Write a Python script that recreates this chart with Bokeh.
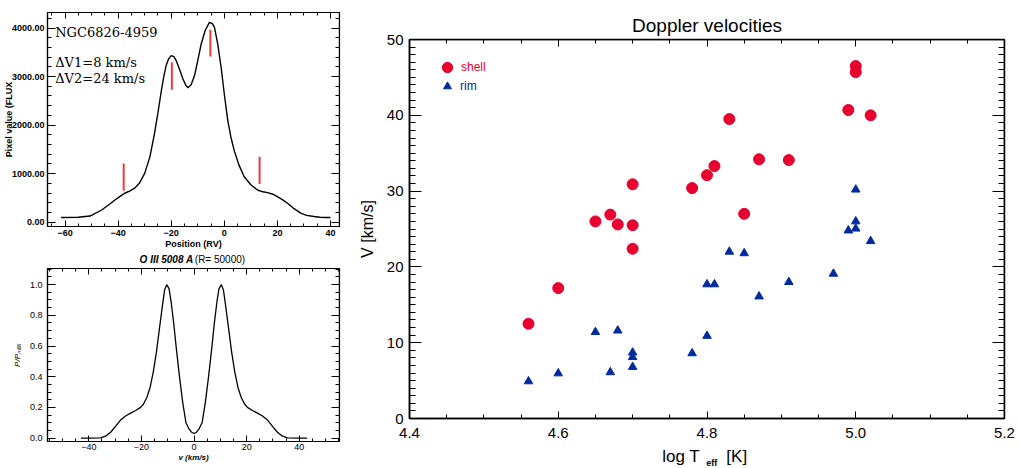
from bokeh.plotting import figure
from bokeh.models import (LinearAxis, Range1d, Label, Legend, LegendItem,
                          SingleIntervalTicker, NumeralTickFormatter,
                          CustomJSTickFormatter)
from bokeh.core.properties import value
from bokeh.layouts import row, column
from bokeh.embed import file_html
from bokeh.resources import INLINE

# ---------------- data ----------------
# top-left: observed line profile NGC6826-4959
spec_x = [-61.5, -55, -50.6, -46.2, -43, -41.2, -39, -37.5, -35.5, -33.8, -32, -30, -28,
          -26.3, -25, -23.7, -22.8, -21.9, -21, -20, -19, -18.1, -16.8, -15.6, -14.5,
          -13.7, -12.5, -11.2, -10, -8.7, -7.2, -5.6, -4.5, -3.7, -2.5, -1.2, 0, 1.3,
          2.5, 3.7, 5.5, 7.5, 10, 12.5, 14.5, 16.3, 18.3, 20, 22, 23.8, 26, 28.8, 31,
          33.8, 36, 38.1, 40]
spec_y = [95, 100, 125, 250, 380, 457, 540, 595, 645, 700, 800, 1005, 1350,
          1825, 2250, 2713, 3000, 3226, 3360, 3431, 3410, 3328, 3140, 2954, 2820,
          2769, 2830, 3021, 3330, 3672, 3950, 4115, 4090, 4012, 3680, 3192, 2640, 2098,
          1750, 1483, 1180, 935, 770, 662, 625, 607, 575, 525, 460, 390, 290, 185, 140,
          115, 102, 95, 95]
# red component markers
comp_x = [-37.9, -19.75, -5.25, 13.3]
comp_y0 = [648, 2728, 3411, 786]
comp_y1 = [1210, 3294, 3965, 1346]

# bottom-left: model profile O III 5008
prof_x = [-43, -40, -35.5, -33.4, -31.6, -29.7, -27.8, -25.9, -24.1, -22.2, -20.3, -19.2,
          -17.9, -16.7, -15.5, -14.3, -13.1, -12.0, -11.2, -10.4, -9.5, -8.7, -7.7, -6.7,
          -5.6, -4.3, -3.1, -1.9, -0.9, 0,
          0.9, 1.9, 3.1, 4.3, 5.6, 6.7, 7.7, 8.7, 9.5, 10.4, 11.2, 12.0, 13.1, 14.3,
          15.5, 16.7, 17.9, 19.2, 20.3, 22.2, 24.1, 25.9, 27.8, 29.7, 31.6, 33.4, 35.5,
          40, 43]
prof_y = [0, 0, 0.002, 0.015, 0.04, 0.08, 0.12, 0.146, 0.163, 0.18, 0.2, 0.222,
          0.266, 0.33, 0.43, 0.56, 0.72, 0.865, 0.963, 1.0, 0.974, 0.887, 0.745, 0.58,
          0.41, 0.233, 0.102, 0.06, 0.038, 0.03,
          0.038, 0.06, 0.102, 0.233, 0.41, 0.58, 0.745, 0.887, 0.974, 1.0, 0.963, 0.865,
          0.72, 0.56, 0.43, 0.33, 0.266, 0.222, 0.2, 0.18, 0.163, 0.146, 0.12, 0.08,
          0.04, 0.015, 0.002, 0, 0]

# right: Doppler velocities
shell_logT = [4.56, 4.60, 4.65, 4.67, 4.68, 4.70, 4.70, 4.70, 4.78, 4.80, 4.81, 4.83,
              4.85, 4.87, 4.91, 4.99, 5.00, 5.00, 5.02]
shell_v = [12.5, 17.2, 26.0, 26.9, 25.6, 25.5, 30.9, 22.4, 30.4, 32.1, 33.3, 39.5,
           27.0, 34.2, 34.1, 40.7, 46.5, 45.7, 40.0]
rim_logT = [4.56, 4.60, 4.65, 4.68, 4.67, 4.70, 4.70, 4.70, 4.78, 4.80, 4.80, 4.81,
            4.83, 4.85, 4.87, 4.91, 4.97, 5.02, 5.00, 5.00, 5.00, 4.99]
rim_v = [4.9, 5.95, 11.4, 11.6, 6.1, 8.7, 8.1, 6.8, 8.6, 10.9, 17.7, 17.7,
         22.0, 21.8, 16.1, 18.0, 19.1, 23.4, 30.2, 26.0, 25.05, 24.8]

RED = "#E8002E"
BLUE = "#002A9E"
SANS = "Liberation Sans"


def box_axes(p, xint, xminor, yint, yminor, xmaj, xmin, ymaj, ymin, lw):
    bottom = p.below[0]
    left = p.left[0]
    top = LinearAxis(fixed_location=p.y_range.end)
    right = LinearAxis(fixed_location=p.x_range.end)
    p.add_layout(top, "above")
    p.add_layout(right, "right")
    xt = SingleIntervalTicker(interval=xint, num_minor_ticks=xminor)
    yt = SingleIntervalTicker(interval=yint, num_minor_ticks=yminor)
    for ax in (bottom, top):
        ax.ticker = xt
        ax.major_tick_in = xmaj
        ax.minor_tick_in = xmin
    for ax in (left, right):
        ax.ticker = yt
        ax.major_tick_in = ymaj
        ax.minor_tick_in = ymin
    for ax in (bottom, top, left, right):
        ax.major_tick_out = 0
        ax.minor_tick_out = 0
        ax.axis_line_width = lw
        ax.major_tick_line_width = 1
        ax.minor_tick_line_width = 1
        ax.axis_line_color = "black"
        ax.major_tick_line_color = "black"
        ax.minor_tick_line_color = "black"
        ax.major_label_text_color = "black"
        ax.axis_label_text_color = "black"
    for ax in (top, right):
        ax.formatter = CustomJSTickFormatter(code="return ''")
        ax.major_label_text_font_size = "0px"
        ax.major_label_standoff = 0
    p.xgrid.visible = False
    p.ygrid.visible = False
    p.outline_line_color = "black"
    p.outline_line_width = lw
    return bottom, left


def lab(p, **kw):
    kw.setdefault("text_baseline", "alphabetic")
    kw.setdefault("text_color", "black")
    p.add_layout(Label(level="overlay", **kw))


def strip(width, height, left, right, x_range):
    s = figure(width=width, height=height, output_backend="svg", toolbar_location=None,
               title=None, x_range=x_range, y_range=Range1d(0, height),
               x_axis_location=None, y_axis_location=None,
               min_border_left=left, min_border_right=right,
               min_border_top=0, min_border_bottom=0)
    s.xgrid.visible = False
    s.ygrid.visible = False
    s.outline_line_color = None
    return s


# ---------------- top-left ----------------
p1 = figure(width=350, height=251, output_backend="svg", toolbar_location=None,
            x_range=Range1d(-66.6, 43.4), y_range=Range1d(-90, 4320),
            min_border_left=46, min_border_right=11, min_border_top=12, min_border_bottom=24)
bx, ly = box_axes(p1, 20, 4, 1000, 5, 6, 3, 8, 4, 1.2)
p1.line(spec_x, spec_y, line_color="black", line_width=1.4)
p1.segment(x0=comp_x, y0=comp_y0, x1=comp_x, y1=comp_y1, line_color="#F03A3A", line_width=2)
ly.formatter = NumeralTickFormatter(format="0.00")
for ax in (bx, ly):
    ax.major_label_text_font = SANS
    ax.major_label_text_font_style = "bold"
    ax.major_label_text_font_size = "9px"
    ax.major_label_standoff = 3
    ax.axis_label_text_font = SANS
    ax.axis_label_text_font_style = "bold"
    ax.axis_label_text_font_size = "9px"
ly.axis_label = "Pixel value (FLUX"
ly.axis_label_standoff = -5
bx.axis_label = "Position (RV)"
bx.axis_label_standoff = 0
for txt, yy in (("NGC6826-4959", 3900), ("\u0394V1=8  km/s", 3290), ("\u0394V2=24  km/s", 2970)):
    lab(p1, x=-63.7, y=yy, text=txt, text_font="DejaVu Serif", text_font_size="13px")

# ---------------- bottom-left ----------------
p2 = figure(width=350, height=202, output_backend="svg", toolbar_location=None,
            x_range=Range1d(-55.7, 55.3), y_range=Range1d(-0.022, 1.105),
            min_border_left=43, min_border_right=8, min_border_top=2, min_border_bottom=27)
bx, ly = box_axes(p2, 20, 4, 0.2, 4, 6, 3, 8, 4, 1.2)
p2.line(prof_x, prof_y, line_color="black", line_width=1.3)
ly.formatter = NumeralTickFormatter(format="0.0")
for ax in (bx, ly):
    ax.major_label_text_font = SANS
    ax.major_label_text_font_size = "9px"
    ax.axis_label_text_font = SANS
    ax.axis_label_text_font_size = "8px"
ly.major_label_standoff = 5
ly.axis_label = "P/P\u2098\u2090\u2093"
ly.axis_label_text_font_style = "italic"
ly.axis_label_standoff = 5
bx.major_label_standoff = 2
bx.axis_label = "v (km/s)"
bx.axis_label_text_font_style = "bold italic"
bx.axis_label_standoff = 0

# title strip of the bottom-left panel
t2 = strip(350, 15, 43, 8, p2.x_range)
t2.text(x=[-20.7], y=[7], text=["O  III   5008 A"], text_font=value(SANS),
        text_font_style="bold italic", text_font_size=value("10px"),
        text_baseline="middle", text_color="black")
t2.text(x=[0.3], y=[7], text=["(R= 50000)"], text_font=value(SANS),
        text_font_size=value("10px"), text_baseline="middle", text_color="black")

# ---------------- right: Doppler velocities ----------------
p3 = figure(width=669, height=446, output_backend="svg", toolbar_location=None,
            x_range=Range1d(4.4, 5.2), y_range=Range1d(0, 50),
            min_border_left=59, min_border_right=15, min_border_top=39, min_border_bottom=28,
            title="Doppler velocities")
bx, ly = box_axes(p3, 0.2, 4, 10, 10, 7, 4, 12, 6, 1.5)
p3.title.align = "center"
p3.title.text_font = SANS
p3.title.text_font_style = "normal"
p3.title.text_font_size = "19px"
p3.title.text_color = "black"
p3.title.standoff = 7
r_shell = p3.scatter(shell_logT, shell_v, marker="circle", size=11,
                     fill_color=RED, line_color=RED)
r_rim = p3.scatter(rim_logT, rim_v, marker="triangle", size=8.5,
                   fill_color=BLUE, line_color=BLUE)
for ax in (bx, ly):
    ax.major_label_text_font = SANS
    ax.major_label_text_font_size = "15px"
ly.major_label_standoff = 6
ly.axis_label = "V [km/s]"
ly.axis_label_text_font = SANS
ly.axis_label_text_font_style = "normal"
ly.axis_label_text_font_size = "16px"
ly.axis_label_standoff = 8
bx.formatter = NumeralTickFormatter(format="0.0")
bx.major_label_standoff = 9

leg_common = dict(padding=0, margin=0, spacing=0, border_line_color=None,
                  background_fill_alpha=0, label_text_font=SANS,
                  label_text_font_size="12px")
leg1 = Legend(items=[LegendItem(label="shell", renderers=[r_shell])],
              location=(25, 338), glyph_width=26, glyph_height=26,
              label_standoff=1, label_text_color=RED, **leg_common)
leg2 = Legend(items=[LegendItem(label="rim", renderers=[r_rim])],
              location=(28, 322), glyph_width=20, glyph_height=20,
              label_standoff=3, label_text_color=BLUE, **leg_common)
p3.add_layout(leg1)
p3.add_layout(leg2)

# x-axis title strip of the right panel (with subscript)
t3 = strip(669, 22, 59, 15, p3.x_range)
t3.text(x=[4.797], y=[12], text=["log  T"], text_font=value(SANS),
        text_font_size=value("17px"), text_align="right", text_baseline="middle",
        text_color="black")
t3.text(x=[4.799], y=[6], text=["eff"], text_font=value(SANS), text_font_style="bold",
        text_font_size=value("9px"), text_align="left", text_baseline="middle",
        text_color="black")
t3.text(x=[4.826], y=[12], text=["[K]"], text_font=value(SANS),
        text_font_size=value("17px"), text_align="left", text_baseline="middle",
        text_color="black")

layout = row(column(p1, t2, p2), column(p3, t3))
open("out.html", "w").write(file_html(layout, INLINE))
